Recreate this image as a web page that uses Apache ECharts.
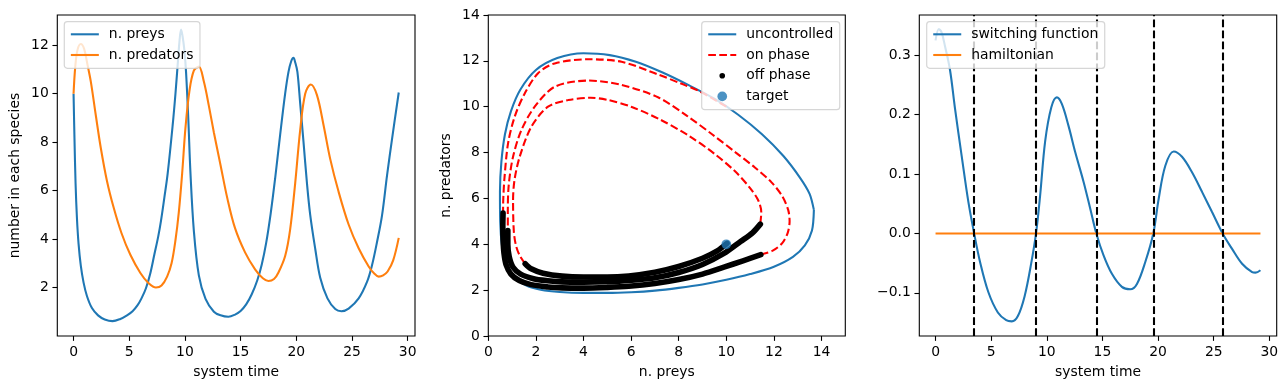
<!DOCTYPE html>
<html><head><meta charset="utf-8">
<script src="https://cdn.jsdelivr.net/npm/echarts@6.0.0/dist/echarts.min.js"></script>
<style>html,body{margin:0;padding:0;background:#fff}#c{width:1288px;height:389px}</style>
</head><body><div id="c"></div>
<script>
// ---------- data ----------
const timeTicks = [0, 5, 10, 15, 20, 25, 30];
const speciesTicks = [2, 4, 6, 8, 10, 12];
const phaseTicks = [0, 2, 4, 6, 8, 10, 12, 14];
const switchTicks = [-0.1, 0, 0.1, 0.2, 0.3];

const preys = [[0,10],[0.08,8.2],[0.18,6.3],[0.3,4.9],[0.45,3.8],[0.65,2.9],[0.9,2.2],[1.2,1.65],[1.65,1.15],[2.2,0.85],[2.8,0.68],[3.5,0.61],[4.2,0.7],[4.8,0.85],[5.3,1.02],[5.75,1.27],[6.1,1.55],[6.5,1.97],[6.9,2.6],[7.25,3.35],[7.6,4.1],[7.85,4.75],[8.15,5.7],[8.45,6.7],[8.9,8.7],[9.15,10.0],[9.35,11.2],[9.5,12.1],[9.65,12.65],[9.78,12.4],[9.95,11.8],[10.1,10.9],[10.3,9.0],[10.5,6.7],[10.8,4.35],[11.25,2.5],[11.85,1.53],[12.6,1.0],[13.2,0.85],[13.9,0.79],[14.5,0.88],[15.0,1.03],[15.5,1.3],[16.0,1.72],[16.5,2.3],[16.9,2.95],[17.3,3.85],[17.7,5.05],[18.1,6.5],[18.55,8.3],[19.0,10.0],[19.3,10.9],[19.55,11.35],[19.75,11.48],[19.9,11.3],[20.1,10.9],[20.35,9.6],[20.65,8.0],[20.95,6.35],[21.25,5.0],[21.7,3.6],[22.15,2.4],[22.8,1.55],[23.5,1.11],[24.05,1.02],[24.7,1.13],[25.6,1.55],[26.35,2.23],[26.8,2.92],[27.25,3.88],[27.7,4.98],[28.15,6.63],[28.6,8.14],[29.2,10.05]];
const predators = [[0,10],[0.15,11.1],[0.35,11.8],[0.65,12.05],[0.95,11.85],[1.25,11.2],[1.55,10.5],[2.0,9.1],[2.45,7.75],[3.0,6.4],[3.6,5.3],[4.3,4.25],[5.1,3.35],[6.0,2.6],[6.7,2.2],[7.4,2.0],[7.9,2.08],[8.4,2.45],[8.8,3.0],[9.15,3.95],[9.45,5.1],[9.75,6.7],[10.05,8.6],[10.4,10.1],[10.8,10.95],[11.25,11.12],[11.7,10.5],[12.15,9.5],[12.6,8.4],[13.2,7.05],[13.8,5.7],[14.5,4.45],[15.4,3.45],[16.3,2.75],[17.0,2.38],[17.5,2.27],[18.0,2.35],[18.4,2.62],[19.0,3.3],[19.45,4.4],[19.9,6.3],[20.35,8.5],[20.8,10.0],[21.3,10.38],[21.85,9.95],[22.45,8.7],[23.05,7.3],[23.8,5.95],[24.7,4.6],[25.6,3.62],[26.5,2.87],[27.0,2.58],[27.4,2.45],[27.8,2.5],[28.2,2.66],[28.7,3.12],[29.2,4.05]];

const uncontrolled = [[13.68,5.5],[13.6,4.6],[13.3,3.95],[12.8,3.45],[12.0,3.02],[11.0,2.7],[10.0,2.45],[9.0,2.25],[8.0,2.1],[7.0,1.98],[6.0,1.91],[5.0,1.88],[4.0,1.88],[3.0,1.92],[2.2,2.02],[1.6,2.2],[1.1,2.55],[0.75,3.1],[0.58,3.9],[0.5,5.0],[0.49,6.3],[0.55,7.6],[0.7,8.8],[0.95,9.8],[1.35,10.75],[2.0,11.6],[2.9,12.12],[4.0,12.33],[5.1,12.25],[6.2,11.96],[7.3,11.5],[8.4,10.95],[9.5,10.35],[10.5,9.65],[11.5,8.8],[12.4,7.85],[13.1,6.9],[13.5,6.2],[13.68,5.5]];
const onPhase1 = [[10.0,10.0],[8.9,10.66],[8.07,11.02],[7.1,11.42],[5.6,11.96],[4.2,12.07],[2.79,11.89],[2.09,11.46],[1.53,10.58],[1.11,9.57],[0.83,8.4],[0.68,6.9],[0.63,6.0],[0.62,5.36]];
const onPhase2 = [[11.45,3.55],[11.95,3.72],[12.35,4.05],[12.58,4.5],[12.66,5.0],[12.6,5.5],[12.35,6.1],[11.9,6.7],[11.2,7.35],[10.4,8.0],[9.4,8.8],[8.35,9.6],[7.15,10.4],[5.6,10.95],[4.2,11.14],[2.79,10.87],[1.95,10.0],[1.39,8.98],[1.04,7.82],[0.86,6.6],[0.82,5.5],[0.82,4.6]];
const onPhase3 = [[11.43,4.91],[11.47,5.4],[11.35,5.9],[11.0,6.45],[10.4,7.15],[9.5,7.95],[8.4,8.75],[7.2,9.45],[6.0,10.0],[5.0,10.3],[4.3,10.39],[3.36,10.29],[2.51,10.0],[1.81,9.13],[1.32,7.82],[1.1,6.8],[1.04,5.9],[1.07,4.6],[1.15,4.0],[1.3,3.55],[1.55,3.15]];
const offPhase1 = [[0.62,5.36],[0.61,4.8],[0.62,4.2],[0.66,3.6],[0.75,3.1],[0.95,2.7],[1.3,2.42],[1.8,2.24],[2.5,2.14],[3.1,2.1],[4.0,2.09],[5.0,2.12],[5.9,2.17],[7.0,2.29],[8.0,2.46],[9.0,2.7],[9.9,3.0],[10.7,3.28],[11.45,3.55]];
const offPhase2 = [[0.82,4.6],[0.82,4.0],[0.88,3.45],[1.04,3.0],[1.36,2.7],[1.9,2.5],[2.5,2.41],[3.1,2.36],[4.0,2.35],[5.0,2.37],[5.9,2.42],[7.0,2.54],[8.0,2.77],[9.0,3.12],[9.9,3.6],[10.6,4.12],[11.1,4.5],[11.43,4.88]];
const offPhase3 = [[1.55,3.15],[1.8,2.93],[2.3,2.74],[3.1,2.61],[4.0,2.57],[5.0,2.57],[5.9,2.62],[7.0,2.78],[8.0,3.03],[9.0,3.39],[9.6,3.7],[10.03,4.04]];
const target = [[10, 4]];

const switchingFunction = [[0,0.325],[0.3,0.344],[0.55,0.338],[0.85,0.315],[1.3,0.275],[1.75,0.21],[2.35,0.13],[2.95,0.053],[3.47,0.0],[4.0,-0.048],[4.75,-0.099],[5.6,-0.133],[6.35,-0.146],[6.85,-0.148],[7.4,-0.139],[8.0,-0.106],[8.6,-0.05],[9.03,0],[9.4,0.064],[9.85,0.155],[10.4,0.212],[10.9,0.229],[11.35,0.218],[11.95,0.181],[12.55,0.137],[13.3,0.087],[13.9,0.042],[14.45,0],[15.1,-0.037],[15.85,-0.068],[16.75,-0.09],[17.5,-0.094],[18.1,-0.085],[18.85,-0.048],[19.57,0],[20.05,0.058],[20.65,0.114],[21.4,0.138],[22.15,0.129],[23.05,0.103],[23.95,0.07],[24.85,0.036],[25.8,0],[26.65,-0.026],[27.55,-0.051],[28.45,-0.065],[28.75,-0.066],[29.2,-0.062]];
const hamiltonian = [[0,0],[29.2,0]];
const switchTimes = [3.47, 9.03, 14.45, 19.57, 25.8];

// ---------- styling ----------
const FONT = 'DejaVu Sans';
const FS = 13.9;
const LW = 2.08;
const BLUE = '#1f77b4', ORANGE = '#ff7f0e', RED = '#ff0000', BLACK = '#000000';
const DASH = [7.7, 3.33];
const minus = s => String(s).replace('-', '\u2212');

function xAxis(gi, min, max, ticks, name, fmt) {
  return {
    type: 'value', gridIndex: gi, min: min, max: max,
    name: name, nameLocation: 'middle', nameGap: 29, nameMoveOverlap: false,
    nameTextStyle: {color: '#000', fontSize: FS, fontFamily: FONT},
    axisLine: {show: false, onZero: false},
    axisTick: {show: true, inside: false, length: 4.86, lineStyle: {color: '#000', width: 1.1}, customValues: ticks},
    axisLabel: {show: true, customValues: ticks, margin: 9, color: '#000', fontSize: FS, fontFamily: FONT, formatter: fmt || (v => minus(v))},
    splitLine: {show: false}
  };
}
function yAxis(gi, min, max, ticks, name, fmt) {
  return {
    type: 'value', gridIndex: gi, min: min, max: max,
    name: name, nameLocation: 'middle', nameGap: 34.6, nameMoveOverlap: false,
    nameTextStyle: {color: '#000', fontSize: FS, fontFamily: FONT},
    axisLine: {show: false, onZero: false},
    axisTick: {show: true, inside: false, length: 4.86, lineStyle: {color: '#000', width: 1.1}, customValues: ticks},
    axisLabel: {show: true, customValues: ticks, margin: 8.5, color: '#000', fontSize: FS, fontFamily: FONT, formatter: fmt || (v => minus(v))},
    splitLine: {show: false}
  };
}
function grid(left, width) {
  return {left: left, top: 15, width: width, height: 321, show: true, borderColor: '#000', borderWidth: 1.1, backgroundColor: 'transparent', containLabel: false, outerBoundsMode: 'none'};
}
function legend(left, names) {
  return {
    show: true, orient: 'vertical', left: left, top: 21.7,
    padding: [5.6, 6.5, 6.3, 5.5], itemGap: 6.7, itemWidth: 28, itemHeight: 9.7,
    backgroundColor: 'rgba(255,255,255,0.8)', borderColor: 'rgba(204,204,204,0.8)', borderWidth: 1.2, borderRadius: 3,
    selectedMode: false, z: 4,
    textStyle: {color: '#000', fontSize: FS, fontFamily: FONT, lineHeight: 14, padding: [0, 0, 0, 5]},
    data: names
  };
}
const lineItem = (name, dashed) => ({name: name, itemStyle: {opacity: 0}, lineStyle: {width: LW, type: dashed ? DASH : 'solid'}});

function line(name, data, color, xi, opts) {
  return Object.assign({
    type: 'line', name: name, xAxisIndex: xi, yAxisIndex: xi, data: data,
    showSymbol: false, symbol: 'none', smooth: 0.35, animation: false, silent: true,
    lineStyle: {color: color, width: LW}, itemStyle: {color: color}, z: 2
  }, opts || {});
}
const dashedRed = {smooth: 0.3, lineStyle: {color: RED, width: LW, type: DASH}};
const dotBand = {smooth: 0.3, lineStyle: {color: BLACK, width: 5.6, cap: 'round', join: 'round'}};

const series = [
  line('n. preys', preys, BLUE, 0),
  line('n. predators', predators, ORANGE, 0),
  line('uncontrolled', uncontrolled, BLUE, 1, {smooth: 0.3}),
  line('on phase', onPhase1, RED, 1, dashedRed),
  line('on phase', onPhase2, RED, 1, dashedRed),
  line('on phase', onPhase3, RED, 1, dashedRed),
  {type: 'scatter', name: 'target', xAxisIndex: 1, yAxisIndex: 1, data: target, symbol: 'circle', symbolSize: 9.7, itemStyle: {color: BLUE}, animation: false, silent: true, z: 2},
  line('off phase', offPhase1, BLACK, 1, dotBand),
  line('off phase', offPhase2, BLACK, 1, dotBand),
  line('off phase', offPhase3, BLACK, 1, dotBand),
  line('switching function', switchingFunction, BLUE, 2),
  line('hamiltonian', hamiltonian, ORANGE, 2, {smooth: false,
    markLine: {silent: true, animation: false, z: 3, symbol: ['none', 'none'], label: {show: false},
      lineStyle: {color: BLACK, width: LW, type: DASH},
      emphasis: {disabled: true},
      data: switchTimes.map(t => ({xAxis: t}))}})
];

const option = {
  animation: false,
  textStyle: {fontFamily: FONT},
  grid: [grid(57.3, 357.7), grid(488.3, 357), grid(919.3, 357.4)],
  xAxis: [
    xAxis(0, -1.46, 30.66, timeTicks, 'system time'),
    xAxis(1, 0, 15, phaseTicks, 'n. preys'),
    xAxis(2, -1.46, 30.66, timeTicks, 'system time')
  ],
  yAxis: [
    yAxis(0, -0.0025, 13.25, speciesTicks, 'number in each species'),
    yAxis(1, 0, 14, phaseTicks, 'n. predators'),
    yAxis(2, -0.1726, 0.3676, switchTicks, '', v => minus(v.toFixed(1)))
  ],
  legend: [
    legend(64.3, [lineItem('n. preys'), lineItem('n. predators')]),
    legend(701.7, [lineItem('uncontrolled'), lineItem('on phase', true),
      {name: 'off phase', icon: 'circle', itemStyle: {color: BLACK, borderColor: '#ffffff', borderWidth: 4.1}},
      {name: 'target', icon: 'circle', itemStyle: {color: BLUE, borderWidth: 0}}]),
    legend(926.7, [lineItem('switching function'), lineItem('hamiltonian')])
  ],
  series: series
};

const chart = echarts.init(document.getElementById('c'), null, {renderer: 'canvas', width: 1288, height: 389});
chart.setOption(option);
</script></body></html>
